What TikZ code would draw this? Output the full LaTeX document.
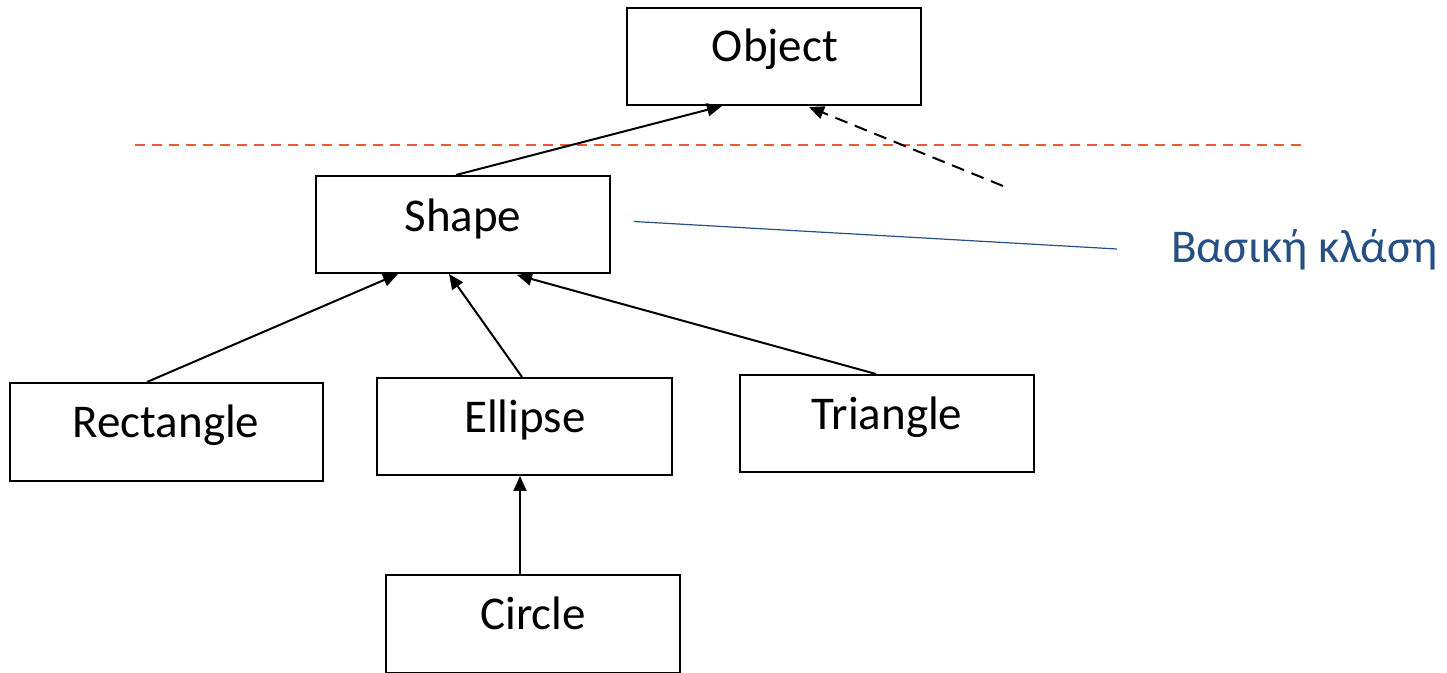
\documentclass[tikz,border=0pt]{standalone}
\usepackage{fontspec}
\setmainfont{Carlito}
\usetikzlibrary{arrows.meta,calc}
\definecolor{navy}{RGB}{38,80,132}
\definecolor{redline}{RGB}{236,88,56}
\begin{document}
\begin{tikzpicture}[x=0.5pt,y=-0.5pt,
  box/.style={draw,line width=1pt,minimum width=147pt,minimum height=48.5pt,inner sep=0pt},
  lbl/.style={anchor=base,inner sep=0pt,font=\fontsize{23.5pt}{28pt}\selectfont},
  arr/.style={line width=1pt,-{Triangle[length=7.5pt,width=6.5pt]}},
  sepline/.style={redline,line width=0.6pt,dash pattern=on 5pt off 3.5pt},
  note/.style={navy,line width=0.6pt}]
\useasboundingbox (0,0) rectangle (1447,673);
% boxes
\node[box] (obj) at (774,56.5) {};
\node[box] (shape) at (463,224.5) {};
\node[box,minimum width=156.5pt,minimum height=49pt] (rect) at (166.5,432) {};
\node[box,minimum width=147.5pt] (ell) at (524.5,426.5) {};
\node[box] (tri) at (887,423.5) {};
\node[box,minimum height=49pt] (circ) at (533,624.5) {};
% labels
\node[lbl] (objt) at (775,62) {Object};
\node[lbl] (shapet) at (463,232) {Shape};
\node[lbl] (rectt) at (166,438) {Rectangle};
\node[lbl] (ellt) at (525,433) {Ellipse};
\node[lbl] (trit) at (887,430) {Triangle};
\node[lbl] (circt) at (533,630) {Circle};
\node[lbl,anchor=base west,text=navy] (base) at (1171,263) {Βασική κλάση};
% separator
\coordinate (r1) at (135,145);
\coordinate (r2) at (1305,145);
\draw[sepline] (r1) -- (r2);
% arrows
\draw[arr] ($(shape.north west)+(141,0)$) -- ($(obj.south west)+(96,0)$);
\coordinate (dt) at (1003,186);
\draw[arr,dash pattern=on 6.5pt off 4pt] (dt) -- ($(obj.south west)+(183,1)$);
\draw[arr] ($(rect.north west)+(138,0)$) -- ($(shape.south west)+(83,0)$);
\draw[arr] ($(ell.north west)+(146,0)$) -- ($(shape.south west)+(134,0)$);
\draw[arr] ($(tri.north west)+(137,0)$) -- ($(shape.south west)+(202,1)$);
\draw[arr] ($(circ.north west)+(135,0)$) -- ($(ell.south west)+(144,0)$);
% note line
\coordinate (bl) at (1117,249);
\draw[note] ($(shape.east)+(23,-3)$) -- (bl);
\end{tikzpicture}
\end{document}
